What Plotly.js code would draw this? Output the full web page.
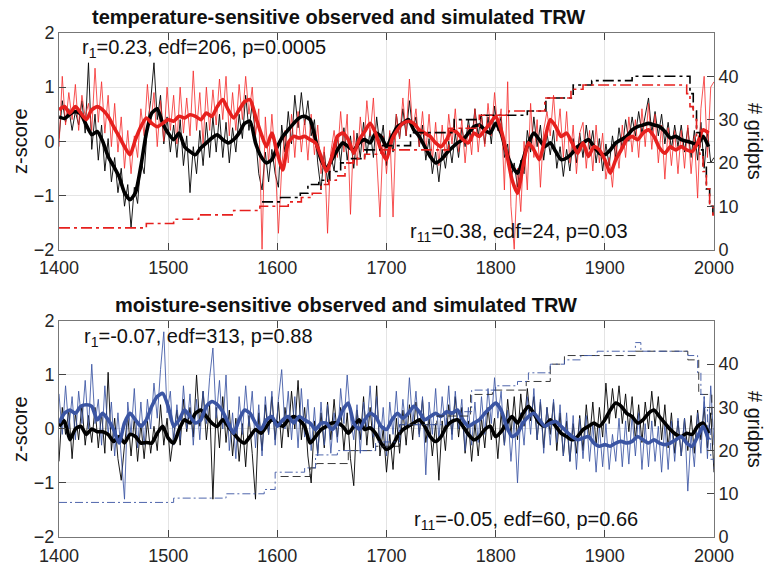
<!DOCTYPE html>
<html>
<head>
<meta charset="utf-8">
<script src="https://cdn.plot.ly/plotly-3.0.1.min.js"></script>
<style>
  html, body { margin: 0; padding: 0; background: #fff; }
  #chart { width: 769px; height: 565px; }
</style>
</head>
<body>
<div id="chart"></div>
<script>
'use strict'

// annual series are read every 3 years (1400..2000), smoothed ones every 5 years (1400..1995)
const thinStart = 1400, thinStep = 3;
const smoothStart = 1400, smoothStep = 5;

// temperature-sensitive, observed (black thin)
const tempObs = [
  0.05, 0.75, 0.35, 0.6, 0.2, 0.55, 0.3, 0.75, 0.15, 1.45,
  -0.15, 0.5, -0.35, 0.3, -0.55, 0.05, -0.75, -0.3, -0.95, -0.5,
  -1.2, -0.8, -1.6, -0.85, -1.15, -0.35, -0.6, 0.3, 0.75, 1.45,
  0.4, 0.85, -0.05, 0.45, -0.2, 0.3, -0.3, 0.4, -0.45, 0.1,
  -0.95, -0.1, -0.6, 0.2, -0.45, 0.35, -0.3, 0.45, -0.2, 0.5,
  -0.3, 0.35, -0.4, 0.25, -0.2, 0.5, 0.05, 0.85, 0.2, 0.7,
  0.1, -0.6, -0.9, -0.2, -0.75, -0.15, -0.6, -0.85, 0.3, -0.2,
  0.55, -0.05, 0.85, 0.25, 0.9, 0.3, 0.75, 0.1, 0.4, -0.4,
  -0.9, -0.2, -0.75, -0.25, -0.55, 0.1, -0.4, 0.25, -0.35, 0.1,
  -0.5, 0.15, -0.3, 0.35, -0.25, 0.2, -0.3, 0.45, -0.1, 0.3,
  -0.45, 0.15, -0.2, 0.5, 0.05, 0.6, 0.1, 0.75, 0.2, 0.45,
  -0.1, 0.3, -0.35, 0.05, -0.6, -0.2, -0.75, -0.15, -0.5, 0.0,
  -0.4, 0.15, -0.3, 0.25, -0.1, 0.4, 0.0, 0.6, 0.1, 0.5,
  -0.05, 0.45, -0.05, 0.65, 0.2, 0.45, -0.3, -0.05, -0.7, -0.4,
  -0.85, -0.35, -0.6, 0.2, -0.2, 0.45, -0.1, 0.3, -0.35, 0.15,
  -0.25, 0.2, -0.5, -0.1, -0.65, -0.15, -0.55, 0.05, -0.4, 0.15,
  -0.3, 0.3, -0.15, 0.2, -0.4, 0.05, -0.55, -0.05, -0.45, 0.1,
  -0.3, 0.25, -0.15, 0.4, 0.0, 0.45, 0.1, 0.55, 0.15, 0.5,
  0.8, 0.15, 0.55, 0.1, 0.5, -0.05, 0.35, -0.15, 0.3, -0.1,
  0.3, -0.2, 0.25, -0.3, 0.2, -0.35, 0.35, -0.5, 0.2, -0.4,
  -0.3
];

// temperature-sensitive, simulated (red thin)
const tempSim = [
  -0.1, 1.2, 0.3, 0.9, 0.4, 1.05, 0.2, 0.85, 0.45, 0.7,
  0.2, 1.35, 0.35, 1.1, 0.15, 0.85, -0.1, 0.7, -0.2, 0.45,
  -0.5, 0.2, -0.6, 0.1, -0.3, 0.6, 0.1, 1.05, 0.3, 0.9,
  -0.1, 0.75, 0.0, 1.0, 0.2, 0.85, -0.05, 1.0, 0.15, 0.8,
  0.1, 1.3, 0.2, 0.9, -0.05, 1.0, 0.2, 0.95, 0.3, 1.15,
  0.4, 1.2, 0.1, 0.9, 0.2, 1.05, 0.4, 1.2, 0.5, 1.0,
  0.1, 0.6, -2.0, 0.45, -0.4, 0.5, -0.3, -1.7, -0.5, 0.2,
  -0.4, 0.5, -0.3, 0.55, -0.2, 0.4, -0.35, 0.5, -0.25, 0.3,
  -0.6, -0.1, -1.7, -0.2, 0.2, -0.3, 0.55, -0.2, 0.5, -1.35,
  0.2, -0.45, 0.45, -0.2, 0.75, 0.1, 0.8, -0.3, -1.4, 0.1,
  -0.6, 0.2, -1.4, 0.5, 0.05, 0.8, 0.1, 1.15, 0.2, 0.6,
  -0.1, 0.55, -0.2, 0.5, -0.35, 0.35, -0.45, 0.3, -0.3, 0.5,
  -0.05, 0.6, -0.2, 0.4, -0.4, 0.3, -0.25, 0.6, -0.2, 0.45,
  -0.1, 0.7, 0.1, 0.9, 0.2, 0.6, -0.9, 1.1, -1.2, -2.0,
  -0.5, -1.3, 0.0, -0.9, 0.7, -0.3, 0.4, -0.85, 0.2, 0.55,
  0.1, 0.85, 0.0, 0.6, -0.3, 0.55, -0.4, 0.3, -0.6, 0.15,
  0.35, -0.5, 0.2, -0.55, 0.3, -0.4, 0.15, -0.7, -0.3, -0.85,
  0.0, -0.5, 0.3, -0.3, 0.45, -0.2, 0.4, -0.3, 0.6, -0.1,
  0.7, -0.15, 0.5, -0.4, 0.3, -0.7, 0.25, -0.45, 0.2, -0.6,
  0.2, -0.5, 0.3, -0.6, 0.1, -1.05, 0.6, 1.2, -0.3, 1.0,
  1.1
];

// moisture-sensitive, observed (black thin)
const moistObs = [
  -0.6, 0.4, -0.1, 0.35, -0.55, 0.3, -0.2, 0.45, -0.3, 0.25,
  -0.25, 0.4, -0.35, 0.3, -0.45, 1.05, -0.4, 0.2, -0.55, -0.95,
  -0.3, 0.25, -0.5, 0.2, -0.6, 0.1, -0.55, 0.15, -0.45, 0.05,
  -0.4, 0.45, -0.3, 0.2, -0.6, -0.1, 0.35, -0.3, 0.55, -0.05,
  0.4, -0.15, 1.0, 0.05, 0.7, -0.2, 0.45, -1.3, 0.4, -0.35,
  0.6, -0.25, 0.35, -0.5, 0.2, -0.6, 0.1, -0.7, 0.25, -0.45,
  -1.3, 0.3, -0.4, 0.45, -0.1, 0.6, -0.2, 0.5, -0.35, 0.4,
  -0.15, 0.7, 0.0, 0.9, -0.2, 0.4, -0.5, -1.0, 0.15, -0.45,
  0.3, -0.35, 0.5, -0.2, 0.55, -0.15, 0.4, -0.4, 0.3, -0.55,
  -1.05, 0.35, -0.2, 0.6, -0.3, 0.4, -0.35, 0.8, -0.5, 0.0,
  -0.8, -0.1, -0.75, 0.2, -0.45, 0.35, -0.3, 0.45, -0.2, 0.5,
  -0.1, 0.55, -0.25, 0.2, -0.5, 0.1, -0.95, 0.15, -0.4, 0.45,
  -0.1, 0.6, -0.15, 0.4, -0.45, 0.15, -0.6, 0.1, -0.5, 0.2,
  -0.35, 0.4, -0.2, 0.2, -0.55, 0.3, -0.3, 0.55, -0.1, 0.6,
  -0.2, 0.65, 0.05, 0.75, 0.15, 0.6, -0.2, 0.5, -0.35, 0.4,
  -0.1, 0.5, -0.4, 0.3, -0.5, 0.15, -0.6, 0.1, -0.45, 0.25,
  -0.4, 0.45, -0.2, 0.5, -0.3, 0.4, -0.15, 0.85, 0.1, 0.75,
  0.2, 0.8, 0.1, 0.65, -0.05, 0.6, -0.2, 0.45, -0.25, 0.5,
  0.0, 0.7, 0.05, 0.6, -0.2, 0.45, -0.35, 0.3, -0.45, 0.15,
  -0.5, 0.2, -0.4, 0.25, -0.45, 0.35, -0.2, 0.4, -0.35, 0.3,
  -0.8
];

// moisture-sensitive, simulated (blue thin)
const moistSim = [
  0.65, -0.1, 0.8, 0.0, 0.6, -0.2, 0.7, 0.1, 0.9, 0.0,
  1.2, 0.1, 0.55, -0.3, 0.8, -0.1, 0.5, -0.5, 0.3, -0.6,
  -1.3, 0.5, -0.1, 0.75, -0.35, 0.5, -0.3, 0.55, 0.0, 0.85,
  0.2, 1.1, 1.8, 0.3, 0.7, -0.3, 0.45, -0.2, 0.8, 0.0,
  0.65, -0.3, 0.55, -0.2, 0.7, 0.1, 0.95, 1.5, 0.2, 0.9,
  0.0, 1.0, -0.4, 0.3, -0.55, 0.6, -0.1, 0.8, 0.05, 0.7,
  -0.35, 0.45, -0.5, 0.6, -0.1, 0.7, -0.3, 0.55, 1.1, 0.0,
  0.7, -0.2, 0.6, -0.35, 0.75, -0.15, 0.55, -0.4, 0.4, -0.5,
  0.5, -0.3, 0.45, -0.45, 0.3, -0.25, 0.75, 0.1, 1.0, 0.2,
  -0.2, 0.45, -0.45, 0.5, 0.0, 0.8, -0.15, 0.6, -0.3, 0.4,
  -0.5, 0.5, -0.1, 0.7, -0.2, 0.55, 0.0, 0.95, 0.1, 0.7,
  -0.15, 0.6, -0.85, 0.5, -0.1, 0.75, -0.2, 0.6, 0.0, 0.8,
  -0.2, 0.7, 0.0, 0.55, -0.4, 0.4, -0.3, 0.5, -0.25, 0.6,
  -0.1, 0.75, 0.1, 0.95, 0.2, 0.7, -0.3, 0.35, -0.6, 0.2,
  -1.0, 0.3, -0.3, 0.6, -0.1, 0.75, -0.2, 0.55, -0.45, 0.4,
  -0.3, 0.55, -0.25, 0.45, -0.5, 0.3, -0.6, 0.25, -0.75, 0.2,
  -0.55, 0.25, -0.6, 0.1, -0.8, 0.05, -0.7, 0.1, -0.75, -0.1,
  -0.6, 0.2, -0.7, 0.15, -0.65, 0.25, -0.5, 0.3, -0.75, 0.1,
  -0.7, 0.15, -0.6, 0.05, -0.8, 0.1, -0.75, 0.15, -0.6, 0.2,
  -0.5, 0.2, -1.15, -0.1, -0.7, 0.3, -0.45, 0.6, -0.55, 0.8,
  -0.3
];

// smoothed series (thick lines)
const tempObsSmooth = [
  0.45, 0.42, 0.5, 0.55, 0.5, 0.3, 0.12, 0.18, 0.0, -0.28,
  -0.46, -0.65, -0.95, -1.08, -0.95, -0.46, 0.15, 0.52, 0.6, 0.33,
  0.15, 0.03, 0.15, -0.1, -0.19, -0.25, -0.12, -0.03, 0.06, 0.12,
  0.03, -0.03, 0.03, 0.15, 0.33, 0.37, -0.03, -0.28, -0.4, -0.34,
  -0.1, 0.09, 0.21, 0.33, 0.43, 0.46, 0.4, 0.03, -0.34, -0.5,
  -0.34, -0.16, -0.03, -0.1, -0.16, -0.03, 0.03, -0.03, 0.15, 0.09,
  -0.1, 0.09, 0.27, 0.33, 0.4, 0.21, 0.09, -0.1, -0.28, -0.4,
  -0.34, -0.22, -0.12, -0.03, 0.03, 0.15, 0.27, 0.3, 0.21, 0.15,
  0.33, 0.15, -0.22, -0.46, -0.59, -0.34, -0.03, 0.15, 0.03, -0.1,
  -0.03, -0.19, -0.34, -0.31, -0.22, -0.1, -0.03, 0.03, -0.1, -0.22,
  -0.25, -0.16, -0.03, 0.03, 0.09, 0.21, 0.27, 0.3, 0.33, 0.3,
  0.27, 0.18, 0.06, 0.09, 0.03, 0.0, -0.03, -0.06, 0.09, -0.1
];
const tempSimSmooth = [
  0.58, 0.64, 0.52, 0.64, 0.52, 0.4, 0.58, 0.64, 0.58, 0.46,
  0.27, 0.09, -0.1, -0.25, 0.03, 0.27, 0.43, 0.33, 0.27, 0.33,
  0.4, 0.37, 0.46, 0.43, 0.49, 0.46, 0.4, 0.52, 0.46, 0.64,
  0.77, 0.58, 0.43, 0.58, 0.73, 0.77, 0.46, 0.15, -0.1, 0.15,
  -0.22, -0.53, -0.03, 0.09, 0.06, 0.09, 0.03, -0.03, -0.28, -0.56,
  -0.28, 0.09, 0.15, 0.03, -0.22, 0.03, 0.18, 0.33, 0.15, -0.16,
  -0.34, 0.03, 0.21, 0.33, 0.37, 0.33, 0.21, 0.15, 0.09, -0.03,
  -0.1, 0.03, 0.21, 0.15, 0.03, -0.03, 0.15, 0.09, 0.21, 0.33,
  0.46, 0.21, -0.22, -0.71, -0.96, -0.46, -0.03, -0.16, -0.34, 0.03,
  0.4, 0.27, 0.09, 0.15, -0.03, -0.22, -0.03, -0.28, -0.1, -0.16,
  -0.34, -0.59, -0.34, -0.16, 0.03, 0.09, 0.03, 0.15, 0.21, 0.09,
  -0.12, -0.22, -0.1, -0.16, -0.1, -0.16, -0.19, -0.03, 0.21, 0.15
];
const moistObsSmooth = [
  0.05, 0.15, -0.2, 0.0, 0.05, -0.1, 0.0, -0.05, -0.05, -0.1,
  -0.23, -0.14, -0.26, -0.1, -0.14, -0.26, -0.25, -0.26, -0.08, 0.05,
  -0.17, -0.26, -0.01, 0.17, 0.11, 0.29, 0.35, 0.23, 0.11, 0.05,
  0.17, 0.05, -0.08, -0.2, -0.26, -0.14, -0.01, -0.08, 0.05, 0.17,
  0.11, 0.05, 0.17, 0.23, 0.17, 0.05, -0.26, -0.14, -0.01, 0.05,
  0.11, 0.11, 0.05, -0.08, 0.05, 0.17, -0.01, 0.02, -0.08, -0.26,
  -0.38, -0.32, -0.14, -0.01, 0.05, 0.11, 0.17, 0.05, -0.14, -0.23,
  -0.14, 0.05, 0.14, 0.17, 0.05, -0.1, -0.2, -0.14, -0.01, 0.05,
  -0.14, -0.05, 0.11, 0.23, 0.11, 0.29, 0.42, 0.29, 0.11, 0.05,
  0.17, 0.05, -0.08, -0.14, -0.2, -0.14, -0.01, 0.05, 0.11, 0.05,
  0.17, 0.35, 0.48, 0.42, 0.29, 0.23, 0.11, 0.17, 0.29, 0.35,
  0.23, 0.11, -0.01, -0.1, -0.14, -0.08, -0.1, 0.05, 0.11, -0.08
];
const moistSimSmooth = [
  0.11, 0.29, 0.35, 0.29, 0.42, 0.45, 0.42, 0.17, 0.29, 0.17,
  -0.01, -0.26, 0.11, 0.29, 0.17, 0.05, 0.17, 0.42, 0.6, 0.66,
  0.42, 0.05, 0.17, 0.35, 0.23, 0.11, 0.17, 0.42, 0.51, 0.45,
  0.32, 0.11, -0.08, 0.17, 0.35, 0.29, 0.11, -0.01, 0.17, 0.23,
  0.05, 0.17, 0.23, 0.11, 0.23, 0.17, 0.11, -0.01, 0.11, 0.11,
  -0.01, 0.11, 0.35, 0.48, 0.11, -0.01, 0.17, 0.29, 0.23, 0.05,
  -0.01, 0.17, 0.29, 0.2, 0.29, 0.42, 0.32, 0.17, 0.23, 0.29,
  0.23, 0.32, 0.29, 0.35, 0.17, 0.05, 0.11, 0.17, 0.29, 0.39,
  0.48, 0.35, 0.05, -0.14, -0.08, 0.11, 0.23, 0.29, 0.17, 0.05,
  0.11, 0.14, 0.05, -0.05, -0.14, -0.2, -0.17, -0.14, -0.26, -0.32,
  -0.29, -0.32, -0.26, -0.23, -0.26, -0.23, -0.14, -0.2, -0.26, -0.2,
  -0.26, -0.29, -0.26, -0.2, -0.14, -0.26, -0.32, -0.14, 0.05, -0.2
];

// number of grid points (right axis), given as change years and counts
const tempObsGridYears = [1586, 1603, 1621, 1628, 1638, 1648, 1658, 1668, 1680, 1695, 1722, 1762, 1786, 1829, 1846, 1871, 1888, 1925, 1978, 1981, 1984, 1987, 1990, 1993, 1996, 1999, 2000];
const tempObsGridCount = [11, 12, 13, 15, 16, 18, 20, 21, 23, 24, 27, 30, 31, 32, 35, 38, 39, 40, 36, 32, 27, 23, 19, 14, 10, 8, 8];
const tempSimGridYears = [1400, 1480, 1505, 1528, 1560, 1584, 1610, 1622, 1632, 1640, 1647, 1654, 1662, 1670, 1680, 1695, 1757, 1785, 1812, 1845, 1869, 1880, 1975, 1978, 1981, 1984, 1987, 1990, 1993, 1996, 1999, 2000];
const tempSimGridCount = [5, 6, 7, 8, 9, 10, 11, 12, 13, 15, 16, 17, 20, 21, 22, 23, 28, 31, 32, 35, 37, 38, 36, 33, 30, 26, 22, 18, 14, 10, 8, 8];
const moistObsGridYears = [1603, 1630, 1636, 1665, 1690, 1712, 1746, 1777, 1797, 1828, 1850, 1863, 1928, 1976, 1986, 1998, 2000];
const moistObsGridCount = [14, 16, 17, 20, 21, 26, 28, 33, 34, 36, 40, 42, 43, 41, 33, 25, 25];
const moistSimGridYears = [1400, 1505, 1553, 1588, 1598, 1625, 1635, 1655, 1690, 1712, 1755, 1778, 1800, 1820, 1830, 1850, 1863, 1878, 1893, 1928, 1933, 1976, 1985, 1988, 1991, 1994, 1997, 2000];
const moistSimGridCount = [8, 9, 10, 11, 15, 16, 19, 20, 22, 26, 29, 34, 35, 36, 38, 40, 41, 42, 43, 45, 43, 42, 38, 33, 30, 25, 18, 15];

const xTicks = [1400, 1500, 1600, 1700, 1800, 1900, 2000];
const zTicks = [-2, -1, 0, 1, 2];
const gridTicks = [0, 10, 20, 30, 40];

let yearsOf = function(start, step, n) {
    let out = [];
    for (let i = 0; i < n; i++) out.push(start + step * i);
    return out;
}

const thinYears = yearsOf(thinStart, thinStep, tempObs.length);
const smoothYears = yearsOf(smoothStart, smoothStep, tempObsSmooth.length);

const red = '#e6201e';
const blue = '#3b55a3';

let thin = (y, color, xa, ya, op) => ({
    x: thinYears, y: y, xaxis: xa, yaxis: ya, type: 'scatter', mode: 'lines',
    line: { color: color, width: 0.9 }, opacity: op, hoverinfo: 'skip'
});
let thick = (y, color, xa, ya) => ({
    x: smoothYears, y: y, xaxis: xa, yaxis: ya, type: 'scatter', mode: 'lines',
    line: { color: color, width: 3.6, shape: 'spline', smoothing: 0.6 }, hoverinfo: 'skip'
});
let steps = (x, y, color, xa, ya, width, dash) => ({
    x: x, y: y, xaxis: xa, yaxis: ya, type: 'scatter', mode: 'lines',
    line: { color: color, width: width, shape: 'hv', dash: dash }, hoverinfo: 'skip'
});

const data = [
    thin(tempObs, '#000000', 'x', 'y', 1),
    thin(tempSim, '#f52a2a', 'x', 'y', 0.9),
    thick(tempObsSmooth, '#000000', 'x', 'y'),
    thick(tempSimSmooth, red, 'x', 'y'),
    steps(tempObsGridYears, tempObsGridCount, '#000000', 'x', 'y2', 1.6, '11px,4px,3px,4px'),
    steps(tempSimGridYears, tempSimGridCount, red, 'x', 'y2', 1.6, '11px,4px,3px,4px'),

    thin(moistObs, '#000000', 'x2', 'y3', 1),
    thin(moistSim, blue, 'x2', 'y3', 0.95),
    thick(moistObsSmooth, '#000000', 'x2', 'y3'),
    thick(moistSimSmooth, blue, 'x2', 'y3'),
    steps(moistObsGridYears, moistObsGridCount, '#222222', 'x2', 'y4', 0.9, '8px,4px'),
    steps(moistSimGridYears, moistSimGridCount, blue, 'x2', 'y4', 0.9, '8px,3px,2px,3px')
];

const tickFont = { family: 'Liberation Sans, Arial, sans-serif', size: 18, color: '#262626' };

let xAxis = (domainAnchor) => ({
    range: [1400, 2000], tickvals: xTicks, ticks: 'inside', ticklen: 7, tickcolor: '#444',
    showline: true, linecolor: '#777', linewidth: 1, mirror: 'ticks',
    showgrid: true, gridcolor: '#e4e4e4', zeroline: false, ticklabelstandoff: 2,
    tickfont: tickFont, anchor: domainAnchor, fixedrange: true
});
let zAxis = (domain, anchor) => ({
    domain: domain, range: [-2, 2], tickvals: zTicks, ticks: 'inside', ticklen: 7, tickcolor: '#444',
    showline: true, linecolor: '#777', linewidth: 1, showgrid: true, gridcolor: '#e4e4e4',
    zeroline: false, tickfont: tickFont, anchor: anchor, fixedrange: true
});
let nAxis = (over, anchor) => ({
    overlaying: over, side: 'right', range: [0, 50], tickvals: gridTicks, ticks: 'inside', ticklen: 7,
    tickcolor: '#444', showline: true, linecolor: '#777', linewidth: 1, showgrid: false,
    zeroline: false, tickfont: tickFont, anchor: anchor, fixedrange: true
});

// pixel helpers for placing text: plot area is x 59..714, y 33..537
const px = v => (v - 59) / 655;
const py = v => (537 - v) / 504;
const textFont = { family: 'Liberation Sans, Arial, sans-serif', size: 20, color: '#111' };

const annotations = [
    { text: '<b>temperature-sensitive observed and simulated TRW</b>', x: px(338), y: py(17), xanchor: 'center', yanchor: 'middle' },
    { text: '<b>moisture-sensitive observed and simulated TRW</b>', x: px(346), y: py(305), xanchor: 'center', yanchor: 'middle' },
    { text: 'r<sub>1</sub>=0.23, edf=206, p=0.0005', x: px(80), y: py(48), xanchor: 'left', yanchor: 'middle' },
    { text: 'r<sub>11</sub>=0.38, edf=24, p=0.03', x: px(408), y: py(232), xanchor: 'left', yanchor: 'middle' },
    { text: 'r<sub>1</sub>=-0.07, edf=313, p=0.88', x: px(82), y: py(337), xanchor: 'left', yanchor: 'middle' },
    { text: 'r<sub>11</sub>=-0.05, edf=60, p=0.66', x: px(412), y: py(520), xanchor: 'left', yanchor: 'middle' },
    { text: 'z-score', x: px(20), y: py(141), textangle: -90, xanchor: 'center', yanchor: 'middle' },
    { text: 'z-score', x: px(20), y: py(429), textangle: -90, xanchor: 'center', yanchor: 'middle' },
    { text: '# gridpts', x: px(755), y: py(141), textangle: 90, xanchor: 'center', yanchor: 'middle' },
    { text: '# gridpts', x: px(755), y: py(429), textangle: 90, xanchor: 'center', yanchor: 'middle' }
].map(a => Object.assign({ xref: 'paper', yref: 'paper', showarrow: false, font: textFont }, a));

const layout = {
    width: 769, height: 565,
    margin: { l: 59, r: 55, t: 33, b: 28, autoexpand: false },
    showlegend: false,
    paper_bgcolor: '#ffffff', plot_bgcolor: '#ffffff',
    xaxis: xAxis('y'),
    xaxis2: xAxis('y3'),
    yaxis: zAxis([0.5704, 1], 'x'),
    yaxis2: nAxis('y', 'x'),
    yaxis3: zAxis([0, 0.4286], 'x2'),
    yaxis4: nAxis('y3', 'x2'),
    annotations: annotations
};

Plotly.newPlot('chart', data, layout, { staticPlot: true, displayModeBar: false });
</script>
</body>
</html>
